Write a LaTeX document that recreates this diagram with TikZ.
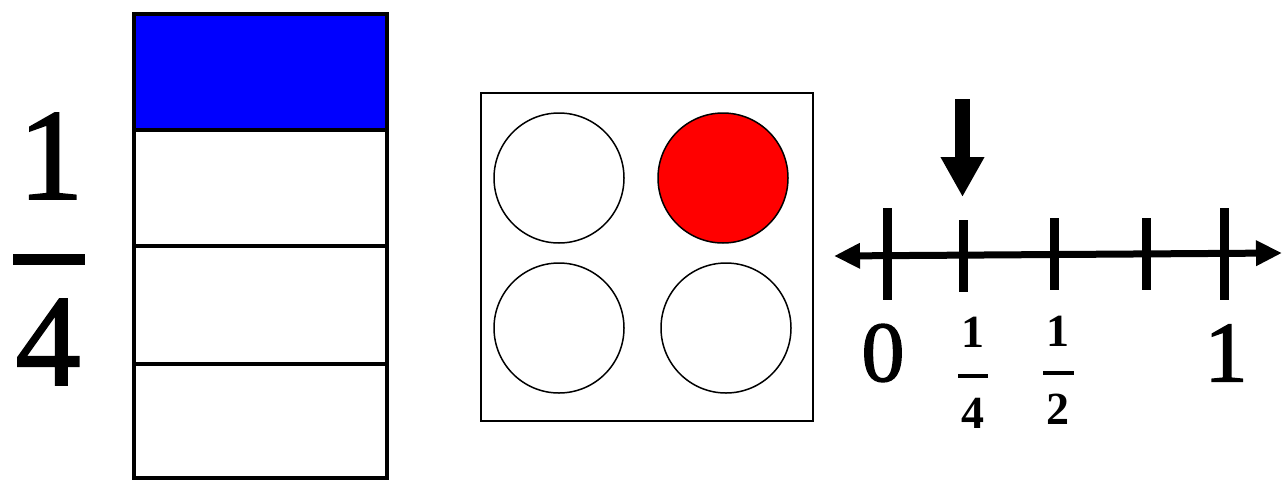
\documentclass[tikz,border=0pt]{standalone}
\usepackage{fontspec}
\setmainfont{Liberation Serif}
\newfontfamily\heavyserif[FakeBold=1.6]{Liberation Serif}
\usetikzlibrary{arrows.meta}
\tikzset{
  bigdigit/.style  ={inner sep=0pt, font=\heavyserif\fontsize{130}{130}\selectfont},
  digit/.style     ={inner sep=0pt, font=\heavyserif\fontsize{86}{86}\selectfont},
  smalldigit/.style={inner sep=0pt, font=\fontsize{46}{46}\selectfont\bfseries},
  part/.style      ={draw, line width=4pt},
  disc/.style      ={circle, draw, line width=1.5pt, minimum size=130pt,
                     inner sep=0pt},
  tickmark/.style  ={line width=9pt},
  fracbar/.style   ={line width=4pt},
}

\begin{document}
\begin{tikzpicture}[x=1pt, y=-1pt]
\useasboundingbox (0,0) rectangle (1283,480);

% Big fraction on the left
\node[bigdigit] (bnum) at (51,156) {1};
\node[bigdigit] (bden) at (48,342) {4};
\draw[line width=11pt] (13,259) -- (85,259);

% Strip cut into four parts, top part shaded
\foreach \t/\b/\c in {14/130/blue, 130/246/white, 246/364/white, 364/478/white}
  \draw[part, fill=\c] (134,\t) rectangle (387,\b);

% Set of four counters, one red
\draw[line width=2pt] (481,93) rectangle (813,421);
\node[disc] (c1) at (559,178) {};
\node[disc, fill=red] (c2) at (723,178) {};
\node[disc] (c3) at (559,328) {};
\node[disc] (c4) at (726,328) {};

% Number line
\coordinate (nlL) at (834,256);
\coordinate (nlR) at (1282,253);
\draw[line width=7pt, {Triangle[length=26pt,width=24pt]}-{Triangle[length=26pt,width=24pt]}]
  (nlL) -- (nlR);
\foreach \x/\t/\b in {887/208/300, 963/220/292, 1054/218/290, 1146/218/290, 1224/208/300}
  \draw[tickmark] (\x,\t) -- (\x,\b);

% Pointer above one quarter
\coordinate (ptop) at (962.5,99);
\coordinate (ptip) at (962.5,197);
\draw[line width=15pt, -{Triangle[length=40pt,width=41pt]}] (ptop) -- (ptip);

% Labels under the line
\node[digit] (l0) at (883,353) {0};
\node[digit] (l1) at (1226,353) {1};
\node[smalldigit] (q1) at (973,332) {1};
\draw[fracbar] (958,376) -- (988,376);
\node[smalldigit] (q4) at (973,413) {4};
\node[smalldigit] (h1) at (1058,331) {1};
\draw[fracbar] (1043,373) -- (1074,373);
\node[smalldigit] (h2) at (1058,409) {2};

\end{tikzpicture}
\end{document}
